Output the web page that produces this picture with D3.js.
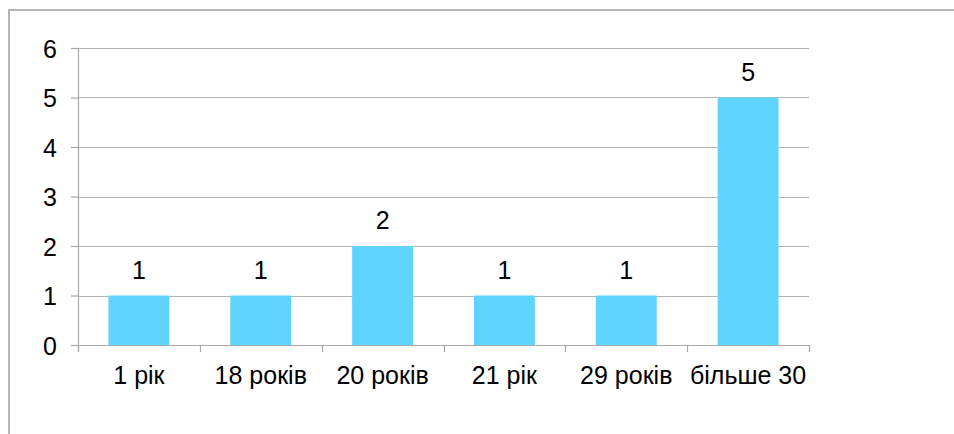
<!DOCTYPE html>
<html>
<head>
<meta charset="utf-8">
<script src="https://cdn.jsdelivr.net/npm/d3@7"></script>
<style>
  html, body { margin: 0; padding: 0; background: #fff; overflow: hidden; }
  text { font-family: "Liberation Sans", Arial, sans-serif; fill: #000; }
</style>
</head>
<body>
<div id="svg-chart"></div>
<script>
// chart data
var categories = ["1 рік", "18 років", "20 років", "21 рік", "29 років", "більше 30"];
var counts = [1, 1, 2, 1, 1, 5];
var yTicks = [0, 1, 2, 3, 4, 5, 6];

var svgWidth = 954;
var svgHeight = 434;
var fontSize = 25;

var chartMargin = { top: 48, bottom: 89, left: 78, right: 145 };

var chartHeight = svgHeight - chartMargin.top - chartMargin.bottom;
var chartWidth = svgWidth - chartMargin.left - chartMargin.right;

var svg = d3.select("#svg-chart")
    .append("svg")
    .attr("width", svgWidth)
    .attr("height", svgHeight);

// outer frame (runs off the right and bottom edges)
svg.append("rect")
    .attr("x", 9)
    .attr("y", 10)
    .attr("width", 1000)
    .attr("height", 500)
    .attr("fill", "none")
    .attr("stroke", "#a3a3a3")
    .attr("stroke-width", 1.6);

var chartGroup = svg.append("g")
    .attr("transform", `translate(${chartMargin.left}, ${chartMargin.top})`);

var yScale = d3.scaleLinear()
    .domain([0, 6])
    .range([chartHeight, 0]);

var xScale = d3.scaleBand()
    .domain(categories)
    .range([0, chartWidth])
    .paddingInner(0.5)
    .paddingOuter(0.25);

// gridlines
chartGroup.append("g")
    .selectAll("line")
    .data(yTicks.filter(d => d > 0))
    .enter()
    .append("line")
    .attr("x1", 0)
    .attr("x2", chartWidth)
    .attr("y1", d => Math.round(yScale(d)) + 0.5)
    .attr("y2", d => Math.round(yScale(d)) + 0.5)
    .attr("stroke", "#b4b4b4")
    .attr("stroke-width", 1.2);

// y axis
var yAxis = d3.axisLeft(yScale)
    .tickValues(yTicks)
    .tickSize(7)
    .tickPadding(14)
    .tickFormat(d3.format("d"));

var yAxisG = chartGroup.append("g")
    .call(yAxis);
yAxisG.select(".domain").remove();
yAxisG.selectAll(".tick line").attr("stroke", "#a8a8a8").attr("stroke-width", 1.2);
yAxisG.selectAll(".tick text")
    .attr("font-size", fontSize)
    .attr("font-family", null)
    .attr("dy", "0.36em");

chartGroup.append("line")
    .attr("x1", 0.5).attr("x2", 0.5)
    .attr("y1", 0).attr("y2", chartHeight + 7)
    .attr("stroke", "#a8a8a8")
    .attr("stroke-width", 1.2);

// bars
chartGroup.selectAll(".bar")
    .data(counts)
    .enter()
    .append("rect")
    .attr("class", "bar")
    .attr("x", (d, i) => xScale(categories[i]))
    .attr("width", xScale.bandwidth())
    .attr("y", d => yScale(d))
    .attr("height", d => chartHeight - yScale(d))
    .attr("fill", "#5fd5fe");

// x axis baseline and category boundary ticks
var step = xScale.step();
var boundaries = d3.range(categories.length + 1).map(i => i * step);

chartGroup.append("line")
    .attr("x1", 0).attr("x2", chartWidth)
    .attr("y1", chartHeight + 0.5).attr("y2", chartHeight + 0.5)
    .attr("stroke", "#a8a8a8")
    .attr("stroke-width", 1.2);

chartGroup.append("g")
    .selectAll("line")
    .data(boundaries)
    .enter()
    .append("line")
    .attr("x1", d => Math.round(d) + 0.5)
    .attr("x2", d => Math.round(d) + 0.5)
    .attr("y1", chartHeight)
    .attr("y2", chartHeight + 7)
    .attr("stroke", "#a8a8a8")
    .attr("stroke-width", 1.2);

// category labels
chartGroup.append("g")
    .selectAll("text")
    .data(categories)
    .enter()
    .append("text")
    .attr("x", d => xScale(d) + xScale.bandwidth() / 2)
    .attr("y", chartHeight + 39)
    .attr("text-anchor", "middle")
    .attr("font-size", fontSize)
    .text(d => d);

// value labels
chartGroup.append("g")
    .selectAll("text")
    .data(counts)
    .enter()
    .append("text")
    .attr("x", (d, i) => xScale(categories[i]) + xScale.bandwidth() / 2)
    .attr("y", d => yScale(d) - 17)
    .attr("text-anchor", "middle")
    .attr("font-size", fontSize)
    .text(d => d);
</script>
</body>
</html>
